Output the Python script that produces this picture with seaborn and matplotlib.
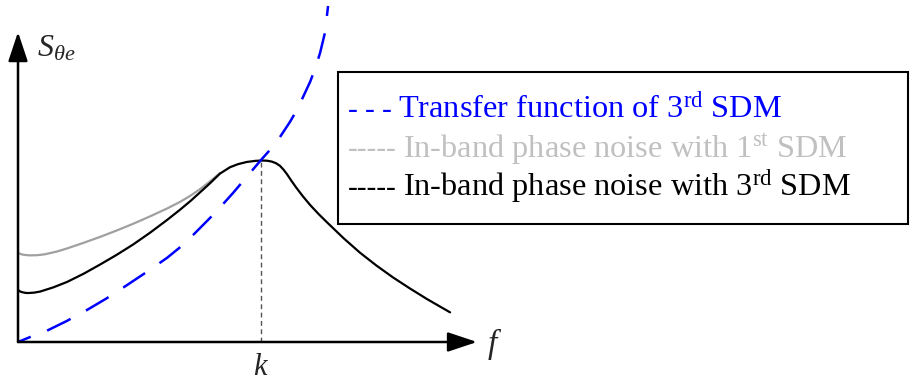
import numpy as np
import pandas as pd
import matplotlib
matplotlib.use("Agg")
import matplotlib.pyplot as plt
from matplotlib.patches import Rectangle
import seaborn as sns

# Frequency axis normalised so that the corner frequency k = 1,
# spectral density normalised so that the peak at k is ~1.
k_freq = 1.0

tf_f = [0.0, 0.055, 0.119, 0.200, 0.284, 0.365, 0.449, 0.530, 0.613, 0.685,
        0.749, 0.815, 0.885, 0.955, 1.0, 1.040, 1.078, 1.119, 1.150, 1.173,
        1.202, 1.225, 1.243, 1.263, 1.276]
tf_s = [0.0, 0.030, 0.062, 0.115, 0.176, 0.240, 0.313, 0.385, 0.462, 0.540,
        0.626, 0.715, 0.819, 0.929, 1.0, 1.060, 1.126, 1.209, 1.280, 1.346,
        1.429, 1.510, 1.588, 1.698, 1.846]

sdm1_f = [0.0, 0.008, 0.016, 0.030, 0.049, 0.080, 0.111, 0.160, 0.202, 0.270,
          0.337, 0.405, 0.473, 0.543, 0.613, 0.667, 0.710, 0.749, 0.790, 0.831]
sdm1_s = [0.491, 0.485, 0.481, 0.478, 0.476, 0.477, 0.482, 0.497, 0.514, 0.545,
          0.577, 0.612, 0.649, 0.690, 0.733, 0.770, 0.804, 0.840, 0.882, 0.928]

sdm3_f = [0.0, 0.008, 0.016, 0.030, 0.041, 0.065, 0.091, 0.145, 0.202, 0.270,
          0.337, 0.405, 0.473, 0.543, 0.613, 0.667, 0.710, 0.749, 0.790, 0.831,
          0.872, 0.905, 0.941, 0.975, 1.0, 1.025, 1.045, 1.062, 1.078, 1.092,
          1.107, 1.125, 1.143, 1.172, 1.202, 1.237, 1.272, 1.340, 1.407, 1.475,
          1.543, 1.613, 1.683, 1.735, 1.778]
sdm3_s = [0.286, 0.278, 0.274, 0.270, 0.269, 0.271, 0.277, 0.300, 0.330, 0.375,
          0.425, 0.478, 0.535, 0.600, 0.670, 0.727, 0.775, 0.822, 0.872, 0.925,
          0.960, 0.977, 0.989, 0.995, 0.997, 0.996, 0.991, 0.982, 0.968, 0.948,
          0.922, 0.886, 0.852, 0.801, 0.753, 0.703, 0.657, 0.570, 0.491, 0.420,
          0.355, 0.294, 0.236, 0.196, 0.163]

legend_prefix = ["- - -", "-----", "-----"]
legend_labels = [r"Transfer function of 3$^{\mathrm{rd}}$ SDM",
                 r"In-band phase noise with 1$^{\mathrm{st}}$ SDM",
                 r"In-band phase noise with 3$^{\mathrm{rd}}$ SDM"]
legend_colors = ["#0000ff", "#c0c0c0", "#000000"]

sns.set_theme(style="white")
plt.rcParams["font.family"] = ["Liberation Serif", "DejaVu Serif"]
plt.rcParams["mathtext.fontset"] = "custom"
plt.rcParams["mathtext.rm"] = "Liberation Serif"
plt.rcParams["mathtext.it"] = "Liberation Serif:italic"
plt.rcParams["mathtext.bf"] = "Liberation Serif:bold"

fig = plt.figure(figsize=(9.11, 3.82), dpi=100)
ax = fig.add_axes([0, 0, 1, 1])
ax.set_xlim(-0.0741, 3.6749)
ax.set_ylim(-0.2198, 1.879)
ax.axis("off")

tf = pd.DataFrame({"f": tf_f, "S": tf_s})
n1 = pd.DataFrame({"f": sdm1_f, "S": sdm1_s})
n3 = pd.DataFrame({"f": sdm3_f, "S": sdm3_s})

# marker at the corner frequency
ax.plot([k_freq, k_freq], [0, max(sdm3_s)], color="#555555", lw=1.0,
        linestyle=(0, (3.5, 2.5)), zorder=1)

sns.lineplot(data=n1, x="f", y="S", ax=ax, color="#a0a0a0", linewidth=1.6,
             zorder=2)
sns.lineplot(data=n3, x="f", y="S", ax=ax, color="black", linewidth=1.6,
             zorder=3)
sns.lineplot(data=tf, x="f", y="S", ax=ax, color="#0000ff", linewidth=1.8,
             linestyle=(5, (10.5, 7)), zorder=4)

# axes with arrow heads
arrow = dict(arrowstyle="-|>,head_length=0.9,head_width=0.3", color="black",
             lw=1.8, shrinkA=0, shrinkB=0, mutation_scale=20)
ax.annotate("", xy=(1.889, 0), xytext=(0, 0), arrowprops=arrow, zorder=5)
ax.annotate("", xy=(0, 1.703), xytext=(0, 0), arrowprops=arrow, zorder=5)

ax.text(0.0406, 0.853, r"$S_{\theta e}$", transform=ax.transAxes,
        fontsize=23, ha="left", va="baseline")
ax.text(0.5346, 0.076, r"$f$", transform=ax.transAxes,
        fontsize=24, ha="left", va="baseline")
ax.text(k_freq, 1 - 375 / 382, r"$k$", transform=ax.get_xaxis_transform(),
        fontsize=22, ha="center", va="baseline")

# legend box
ax.add_patch(Rectangle((0.371, 0.414), 0.6257, 0.3975, transform=ax.transAxes,
                       fill=False, edgecolor="black", lw=1.5, clip_on=False))
ys = [0.690, 0.589, 0.487]
xs = [0.4369, 0.4424, 0.4424]
for pre, lab, col, y, x in zip(legend_prefix, legend_labels, legend_colors, ys, xs):
    ax.text(0.382, y, pre, transform=ax.transAxes, color=col, fontsize=21,
            ha="left", va="baseline")
    ax.text(x, y, lab, transform=ax.transAxes, color=col, fontsize=23.3,
            ha="left", va="baseline")

fig.savefig("out.png", dpi=100)
